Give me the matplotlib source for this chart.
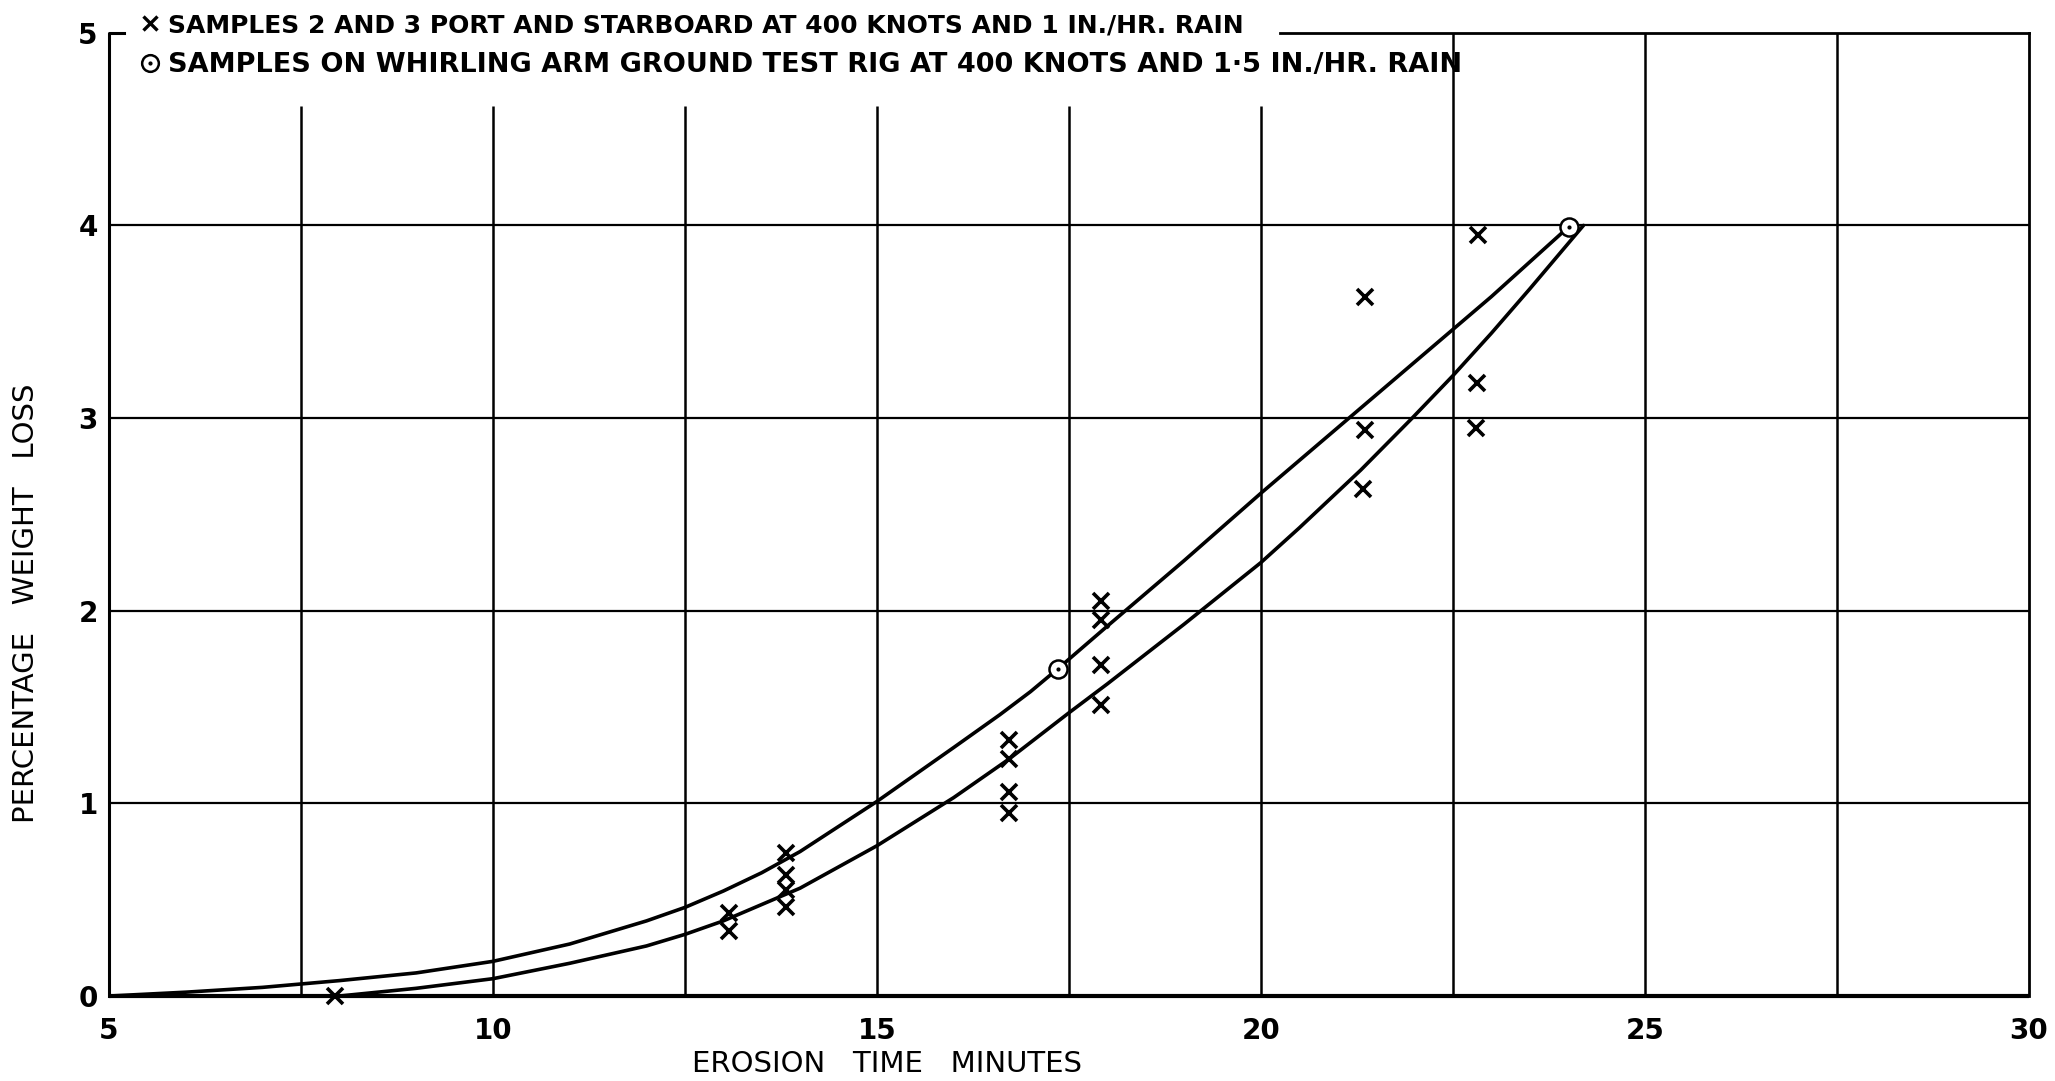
import matplotlib
matplotlib.use("Agg")
import matplotlib.pyplot as plt
from matplotlib.lines import Line2D

# ---- data ----
# crosses: samples 2 and 3, port and starboard, 400 knots, 1 in./hr rain
flight_time = [7.95, 13.07, 13.07, 13.82, 13.82, 13.82, 13.82,
               16.72, 16.72, 16.72, 16.72, 17.92, 17.92, 17.92, 17.92,
               21.35, 21.35, 21.33, 22.83, 22.81, 22.80]
flight_loss = [0.0, 0.34, 0.43, 0.74, 0.63, 0.55, 0.46,
               1.33, 1.23, 1.06, 0.95, 2.05, 1.95, 1.72, 1.51,
               3.63, 2.94, 2.63, 3.95, 3.18, 2.95]

# circles: whirling arm ground test rig, 400 knots, 1.5 in./hr rain
rig_time = [17.36, 24.01]
rig_loss = [1.70, 3.99]

# upper faired curve
upper_time = [5.0, 6.0, 7.0, 8.0, 9.0, 10.0, 11.0, 12.0, 12.5, 13.0, 13.5, 14.0,
              15.0, 16.0, 16.6, 17.0, 17.36, 18.0, 19.0, 20.0, 21.0, 22.0, 22.5,
              23.0, 23.5, 24.0]
upper_loss = [0.0, 0.02, 0.045, 0.08, 0.12, 0.18, 0.27, 0.39, 0.46, 0.545, 0.64, 0.75,
              1.01, 1.29, 1.46, 1.58, 1.70, 1.92, 2.26, 2.61, 2.95, 3.29, 3.46,
              3.63, 3.81, 3.99]

# lower faired curve
lower_time = [8.0, 9.0, 10.0, 11.0, 12.0, 12.5, 13.0, 14.0, 15.0, 16.0, 16.72,
              17.5, 18.0, 19.0, 20.0, 20.5, 21.3, 21.97, 22.5, 23.0, 23.5, 24.2]
lower_loss = [0.0, 0.04, 0.09, 0.17, 0.26, 0.32, 0.39, 0.56, 0.78, 1.03, 1.23,
              1.47, 1.62, 1.93, 2.25, 2.43, 2.73, 3.0, 3.22, 3.44, 3.67, 4.0]

x_ticks = [5, 10, 15, 20, 25, 30]
y_ticks = [0, 1, 2, 3, 4, 5]
x_grid_short = [7.5, 10, 12.5, 15, 17.5, 20]
x_grid_full = [22.5, 25, 27.5]
y_grid = [1, 2, 3, 4]

legend_labels = [
    "SAMPLES 2 AND 3 PORT AND STARBOARD AT 400 KNOTS AND 1 IN./HR. RAIN",
    "SAMPLES ON WHIRLING ARM GROUND TEST RIG AT 400 KNOTS AND 1\u00b75 IN./HR. RAIN",
]
x_label = "EROSION   TIME   MINUTES"
y_label = "PERCENTAGE   WEIGHT   LOSS"

# ---- figure ----
plt.rcParams['font.family'] = ['DejaVu Sans']
fig = plt.figure(figsize=(20.55, 10.81), dpi=100)
ax = fig.add_axes([0.0530, 0.0786, 0.9343, 0.8911])
ax.set_xlim(5, 30)
ax.set_ylim(0, 5)
for s in ax.spines.values():
    s.set_visible(False)

k = 'black'
# grid / frame
ax.vlines(x_grid_short, 0, 4.62, colors=k, lw=1.8)
ax.vlines(x_grid_full, 0, 5, colors=k, lw=1.8)
ax.hlines(y_grid, 5, 30, colors=k, lw=1.6)
ax.plot([5, 30], [0, 0], color=k, lw=3.0, clip_on=False, solid_capstyle='butt')
ax.plot([30, 30], [0, 5], color=k, lw=2.0, clip_on=False)
ax.plot([20.25, 30], [5, 5], color=k, lw=2.0, clip_on=False)
ax.plot([5.2, 5, 5], [5, 5, 0], color=k, lw=2.2, clip_on=False)

# curves
ax.plot(upper_time, upper_loss, color=k, lw=2.6, solid_capstyle='round',
        solid_joinstyle='round')
ax.plot(lower_time, lower_loss, color=k, lw=2.6, solid_capstyle='round',
        solid_joinstyle='round')

# points
ax.plot(flight_time, flight_loss, linestyle='none', marker='x', ms=11,
        mew=2.6, color=k, clip_on=False)
ax.plot(rig_time, rig_loss, linestyle='none', marker='o', ms=13, mew=1.8,
        mfc='white', mec=k, clip_on=False)
ax.plot(rig_time, rig_loss, linestyle='none', marker='.', ms=4, color=k,
        clip_on=False)

# ticks
ax.set_xticks(x_ticks)
ax.set_xticklabels([str(v) for v in x_ticks])
ax.set_yticks(y_ticks)
ax.set_yticklabels([str(v) for v in y_ticks])
ax.tick_params(axis='x', length=0, pad=15, labelsize=20)
ax.tick_params(axis='y', length=0, pad=8, labelsize=20)
for lab in ax.get_xticklabels() + ax.get_yticklabels():
    lab.set_fontweight('bold')

# axis titles
fig.text(0.4317, 0.0157, x_label, ha='center', va='center', fontsize=21)
fig.text(0.0127, 0.442, y_label, ha='center', va='center', fontsize=21,
         rotation=90)

# legend
h_x = Line2D([], [], linestyle='none', marker='x', ms=10, mew=2.4, color=k)
h_o = Line2D([], [], linestyle='none', marker='o', ms=12, mew=1.8, mfc='white', mec=k)
h_d = Line2D([], [], linestyle='none', marker='.', ms=4, color=k)
leg = fig.legend([h_x, (h_o, h_d)], legend_labels, loc='upper left',
                 bbox_to_anchor=(0.062, 1.0), frameon=False,
                 prop={'size': 19.5, 'weight': 'bold'},
                 handlelength=0.7, handletextpad=0.3, labelspacing=0.55,
                 borderaxespad=0.1)
leg.get_texts()[0].set_fontsize(18)

fig.savefig("out.png", dpi=100, facecolor='white')
